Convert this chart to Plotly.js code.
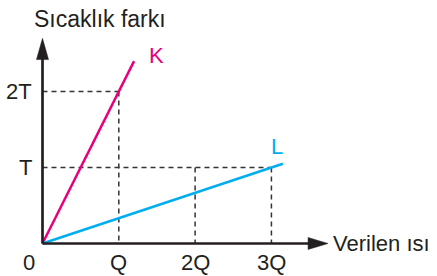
<!DOCTYPE html>
<html>
<head>
<meta charset="utf-8">
<script src="https://cdn.plot.ly/plotly-3.0.1.min.js"></script>
<style>html,body{margin:0;padding:0;background:#fff;}#chart{width:437px;height:276px;}</style>
</head>
<body>
<div id="chart"></div>
<script>
// ---- data ----
const seriesNames = ['K', 'L'];
const kX = [0, 1.2];
const kY = [0, 2.4];
const lX = [0, 3.15];
const lY = [0, 1.05];
const xTickVals = [0, 1, 2, 3];
const xTickText = ['0', 'Q', '2Q', '3Q'];
const yTickVals = [1, 2];
const yTickText = ['T', '2T'];
const xTitle = 'Verilen ısı';
const yTitle = 'Sıcaklık farkı';

// ---- styling ----
const FONT = 'Liberation Sans, Arial, sans-serif';
const FS = 22;
const AX = '#231f20';
const KC = '#e6007e';
const LC = '#00aeef';
const GUIDE = '#333333';

// guide (dashed) segments, derived from the tick values / points on the lines
const guides = [
  [[0, xTickVals[1]], [yTickVals[1], yTickVals[1]]],
  [[xTickVals[1], xTickVals[1]], [yTickVals[1], 0]],
  [[0, xTickVals[3]], [yTickVals[0], yTickVals[0]]],
  [[xTickVals[2], xTickVals[2]], [yTickVals[0], 0]],
  [[xTickVals[3], xTickVals[3]], [yTickVals[0], 0]]
];

const traces = guides.map(g => ({
  x: g[0], y: g[1], mode: 'lines', type: 'scatter', hoverinfo: 'skip',
  line: {color: GUIDE, width: 1.5, dash: '5px,4px'}, showlegend: false
}));
traces.push({x: kX, y: kY, mode: 'lines', type: 'scatter', name: seriesNames[0],
  line: {color: KC, width: 2.5}, showlegend: false});
traces.push({x: lX, y: lY, mode: 'lines', type: 'scatter', name: seriesNames[1],
  line: {color: LC, width: 2.5}, showlegend: false});

// axis geometry (data units)
const yTop = 2.70, yHeadBase = 2.42, xTip = 3.742, xHeadBase = 3.48;
const hw = 0.079;

const shapes = [
  {type: 'line', x0: 0, y0: 0, x1: 0, y1: yHeadBase + 0.02, line: {color: AX, width: 2.7}},
  {type: 'line', x0: 0, y0: 0, x1: xHeadBase + 0.02, y1: 0, line: {color: AX, width: 2.7}},
  {type: 'path', path: `M ${-hw} ${yHeadBase} L 0 ${yTop} L ${hw} ${yHeadBase} Z`,
    fillcolor: AX, line: {color: AX, width: 0.5}},
  {type: 'path', path: `M ${xHeadBase} ${-hw} L ${xTip} 0 L ${xHeadBase} ${hw} Z`,
    fillcolor: AX, line: {color: AX, width: 0.5}}
];

const annotations = [];
const tf = {family: FONT, size: FS, color: AX};
xTickVals.forEach((v, i) => {
  annotations.push({x: v, y: 0, xref: 'x', yref: 'y', text: xTickText[i], showarrow: false,
    xanchor: 'center', yanchor: 'middle', yshift: -19, xshift: i === 0 ? -14 : 0, font: tf});
});
yTickVals.forEach((v, i) => {
  annotations.push({x: 0, y: v, xref: 'x', yref: 'y', text: yTickText[i], showarrow: false,
    xanchor: 'right', yanchor: 'middle', xshift: -9, font: tf});
});
annotations.push({x: 32 / 437, y: 1 - 19 / 276, xref: 'paper', yref: 'paper', text: yTitle, showarrow: false,
  xanchor: 'left', yanchor: 'middle', font: {family: FONT, size: 23, color: AX}});
annotations.push({x: xTip, y: 0, xref: 'x', yref: 'y', text: xTitle, showarrow: false,
  xanchor: 'left', yanchor: 'middle', xshift: 3, font: tf});
annotations.push({x: kX[1], y: kY[1], xref: 'x', yref: 'y', text: seriesNames[0], showarrow: false,
  xanchor: 'center', yanchor: 'middle', xshift: 22, yshift: 6, font: {family: FONT, size: FS, color: KC}});
annotations.push({x: lX[1], y: lY[1], xref: 'x', yref: 'y', text: seriesNames[1], showarrow: false,
  xanchor: 'center', yanchor: 'middle', xshift: -6, yshift: 17, font: {family: FONT, size: FS, color: LC}});

const layout = {
  width: 437, height: 276,
  margin: {l: 0, r: 0, t: 0, b: 0},
  paper_bgcolor: '#fff', plot_bgcolor: '#fff',
  xaxis: {range: [-0.557, 5.170], visible: false, fixedrange: true},
  yaxis: {range: [-0.4276, 3.204], visible: false, fixedrange: true},
  shapes: shapes,
  annotations: annotations,
  showlegend: false
};

Plotly.newPlot('chart', traces, layout, {staticPlot: true, displayModeBar: false});
</script>
</body>
</html>
